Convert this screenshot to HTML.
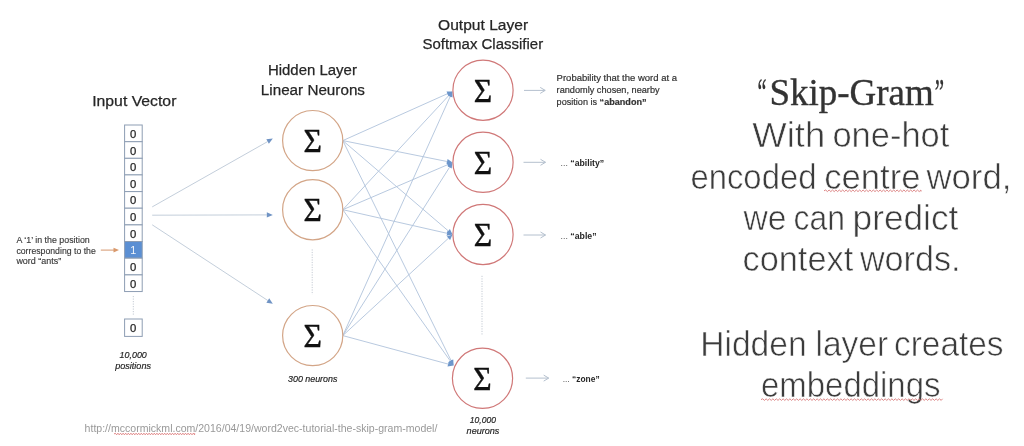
<!DOCTYPE html><html><head><meta charset="utf-8"><style>html,body{margin:0;padding:0;background:#fff;width:1024px;height:446px;overflow:hidden}svg{display:block;filter:blur(0.45px)}</style></head><body>
<svg width="1024" height="446" viewBox="0 0 1024 446">
<rect width="1024" height="446" fill="#fff"/>
<text x="92.2" y="106.2" font-family="'Liberation Sans', sans-serif" font-size="15.4" fill="#262626" stroke="#262626" stroke-width="0.25" textLength="84.2" lengthAdjust="spacingAndGlyphs">Input Vector</text>
<text x="267.9" y="75.1" font-family="'Liberation Sans', sans-serif" font-size="15.4" fill="#262626" stroke="#262626" stroke-width="0.25" textLength="89" lengthAdjust="spacingAndGlyphs">Hidden Layer</text>
<text x="260.8" y="94.6" font-family="'Liberation Sans', sans-serif" font-size="15.4" fill="#262626" stroke="#262626" stroke-width="0.25" textLength="104.2" lengthAdjust="spacingAndGlyphs">Linear Neurons</text>
<text x="438.1" y="29.6" font-family="'Liberation Sans', sans-serif" font-size="15.4" fill="#262626" stroke="#262626" stroke-width="0.25" textLength="90" lengthAdjust="spacingAndGlyphs">Output Layer</text>
<text x="422.4" y="49.4" font-family="'Liberation Sans', sans-serif" font-size="15.4" fill="#262626" stroke="#262626" stroke-width="0.25" textLength="120.8" lengthAdjust="spacingAndGlyphs">Softmax Classifier</text>
<rect x="124.6" y="125.0" width="17.6" height="16.65" fill="#fff" stroke="#8d9db3" stroke-width="1"/>
<text x="133.2" y="137.8" font-family="'Liberation Sans', sans-serif" font-size="11.3" fill="#262626" stroke="#262626" stroke-width="0.25" text-anchor="middle">0</text>
<rect x="124.6" y="141.7" width="17.6" height="16.65" fill="#fff" stroke="#8d9db3" stroke-width="1"/>
<text x="133.2" y="154.5" font-family="'Liberation Sans', sans-serif" font-size="11.3" fill="#262626" stroke="#262626" stroke-width="0.25" text-anchor="middle">0</text>
<rect x="124.6" y="158.3" width="17.6" height="16.65" fill="#fff" stroke="#8d9db3" stroke-width="1"/>
<text x="133.2" y="171.1" font-family="'Liberation Sans', sans-serif" font-size="11.3" fill="#262626" stroke="#262626" stroke-width="0.25" text-anchor="middle">0</text>
<rect x="124.6" y="174.9" width="17.6" height="16.65" fill="#fff" stroke="#8d9db3" stroke-width="1"/>
<text x="133.2" y="187.8" font-family="'Liberation Sans', sans-serif" font-size="11.3" fill="#262626" stroke="#262626" stroke-width="0.25" text-anchor="middle">0</text>
<rect x="124.6" y="191.6" width="17.6" height="16.65" fill="#fff" stroke="#8d9db3" stroke-width="1"/>
<text x="133.2" y="204.4" font-family="'Liberation Sans', sans-serif" font-size="11.3" fill="#262626" stroke="#262626" stroke-width="0.25" text-anchor="middle">0</text>
<rect x="124.6" y="208.2" width="17.6" height="16.65" fill="#fff" stroke="#8d9db3" stroke-width="1"/>
<text x="133.2" y="221.1" font-family="'Liberation Sans', sans-serif" font-size="11.3" fill="#262626" stroke="#262626" stroke-width="0.25" text-anchor="middle">0</text>
<rect x="124.6" y="224.9" width="17.6" height="16.65" fill="#fff" stroke="#8d9db3" stroke-width="1"/>
<text x="133.2" y="237.7" font-family="'Liberation Sans', sans-serif" font-size="11.3" fill="#262626" stroke="#262626" stroke-width="0.25" text-anchor="middle">0</text>
<rect x="124.6" y="241.5" width="17.6" height="16.65" fill="#5b8fd3" stroke="#8d9db3" stroke-width="1"/>
<text x="133.2" y="254.3" font-family="'Liberation Sans', sans-serif" font-size="10.8" fill="#f4f7fb" text-anchor="middle">1</text>
<rect x="124.6" y="258.2" width="17.6" height="16.65" fill="#fff" stroke="#8d9db3" stroke-width="1"/>
<text x="133.2" y="271.0" font-family="'Liberation Sans', sans-serif" font-size="11.3" fill="#262626" stroke="#262626" stroke-width="0.25" text-anchor="middle">0</text>
<rect x="124.6" y="274.9" width="17.6" height="16.65" fill="#fff" stroke="#8d9db3" stroke-width="1"/>
<text x="133.2" y="287.7" font-family="'Liberation Sans', sans-serif" font-size="11.3" fill="#262626" stroke="#262626" stroke-width="0.25" text-anchor="middle">0</text>
<line x1="133.3" y1="296" x2="133.3" y2="316" stroke="#c4cad3" stroke-width="1" stroke-dasharray="1.2 1.3"/>
<rect x="124.6" y="319" width="17.6" height="17.4" fill="#fff" stroke="#8d9db3" stroke-width="1"/>
<text x="133.2" y="331.6" font-family="'Liberation Sans', sans-serif" font-size="11.3" fill="#262626" stroke="#262626" stroke-width="0.25" text-anchor="middle">0</text>
<text x="133.2" y="357.5" font-family="'Liberation Sans', sans-serif" font-size="9.5" font-style="italic" fill="#262626" stroke="#262626" stroke-width="0.2" text-anchor="middle" textLength="27.2" lengthAdjust="spacingAndGlyphs">10,000</text>
<text x="133.1" y="368.5" font-family="'Liberation Sans', sans-serif" font-size="9.5" font-style="italic" fill="#262626" stroke="#262626" stroke-width="0.2" text-anchor="middle" textLength="35.8" lengthAdjust="spacingAndGlyphs">positions</text>
<text x="16.4" y="243.4" font-family="'Liberation Sans', sans-serif" font-size="9" fill="#3a3a3a" stroke="#3a3a3a" stroke-width="0.15" textLength="73.4" lengthAdjust="spacingAndGlyphs">A ‘1’ in the position</text>
<text x="16.4" y="253.8" font-family="'Liberation Sans', sans-serif" font-size="9" fill="#3a3a3a" stroke="#3a3a3a" stroke-width="0.15" textLength="79.4" lengthAdjust="spacingAndGlyphs">corresponding to the</text>
<text x="16.4" y="264.4" font-family="'Liberation Sans', sans-serif" font-size="9" fill="#3a3a3a" stroke="#3a3a3a" stroke-width="0.15" textLength="44.8" lengthAdjust="spacingAndGlyphs">word “ants”</text>
<line x1="100.8" y1="250.1" x2="114" y2="250.1" stroke="#d9a07a" stroke-width="1.1"/>
<path d="M119 250.1 L113.5 247.8 L113.5 252.4 Z" fill="#d9996c"/>
<line x1="152.2" y1="206.9" x2="267.6" y2="141.6" stroke="#bcc8d6" stroke-width="0.9"/><path d="M272.8 138.6 L268.9 143.8 L266.3 139.3 Z" fill="#6f93c4"/>
<line x1="152.2" y1="215.2" x2="266.8" y2="214.9" stroke="#bcc8d6" stroke-width="0.9"/><path d="M272.8 214.9 L266.8 217.5 L266.8 212.3 Z" fill="#6f93c4"/>
<line x1="152.2" y1="224.8" x2="267.8" y2="300.5" stroke="#bcc8d6" stroke-width="0.9"/><path d="M272.8 303.8 L266.4 302.7 L269.2 298.3 Z" fill="#6f93c4"/>
<line x1="342.8" y1="140.6" x2="447.5" y2="93.7" stroke="#b0c3db" stroke-width="0.9"/><path d="M452.5 91.5 L448.5 96.0 L446.5 91.5 Z" fill="#6d96cb"/>
<line x1="342.8" y1="140.6" x2="447.1" y2="161.5" stroke="#b0c3db" stroke-width="0.9"/><path d="M452.5 162.6 L446.6 164.0 L447.6 159.1 Z" fill="#6d96cb"/>
<line x1="342.8" y1="140.6" x2="448.3" y2="230.9" stroke="#b0c3db" stroke-width="0.9"/><path d="M452.5 234.5 L446.7 232.8 L449.9 229.0 Z" fill="#6d96cb"/>
<line x1="342.8" y1="140.6" x2="451.1" y2="360.6" stroke="#b0c3db" stroke-width="0.9"/><path d="M453.5 365.5 L448.8 361.7 L453.3 359.5 Z" fill="#6d96cb"/>
<line x1="342.8" y1="209.7" x2="448.8" y2="95.5" stroke="#b0c3db" stroke-width="0.9"/><path d="M452.5 91.5 L450.6 97.2 L446.9 93.8 Z" fill="#6d96cb"/>
<line x1="342.8" y1="209.7" x2="447.4" y2="164.8" stroke="#b0c3db" stroke-width="0.9"/><path d="M452.5 162.6 L448.4 167.1 L446.5 162.5 Z" fill="#6d96cb"/>
<line x1="342.8" y1="209.7" x2="447.1" y2="233.3" stroke="#b0c3db" stroke-width="0.9"/><path d="M452.5 234.5 L446.6 235.7 L447.7 230.8 Z" fill="#6d96cb"/>
<line x1="342.8" y1="209.7" x2="450.3" y2="361.0" stroke="#b0c3db" stroke-width="0.9"/><path d="M453.5 365.5 L448.3 362.5 L452.4 359.6 Z" fill="#6d96cb"/>
<line x1="342.8" y1="335.6" x2="450.2" y2="96.5" stroke="#b0c3db" stroke-width="0.9"/><path d="M452.5 91.5 L452.5 97.5 L448.0 95.5 Z" fill="#6d96cb"/>
<line x1="342.8" y1="335.6" x2="449.6" y2="167.2" stroke="#b0c3db" stroke-width="0.9"/><path d="M452.5 162.6 L451.7 168.6 L447.4 165.9 Z" fill="#6d96cb"/>
<line x1="342.8" y1="335.6" x2="448.5" y2="238.2" stroke="#b0c3db" stroke-width="0.9"/><path d="M452.5 234.5 L450.1 240.1 L446.8 236.4 Z" fill="#6d96cb"/>
<line x1="342.8" y1="335.6" x2="448.2" y2="364.1" stroke="#b0c3db" stroke-width="0.9"/><path d="M453.5 365.5 L447.5 366.5 L448.8 361.7 Z" fill="#6d96cb"/>
<line x1="312.2" y1="249.4" x2="312.2" y2="294.5" stroke="#c4cad3" stroke-width="1" stroke-dasharray="1.2 1.3"/>
<line x1="482" y1="275.8" x2="482" y2="335" stroke="#c4cad3" stroke-width="1" stroke-dasharray="1.2 1.3"/>
<circle cx="312.7" cy="140.6" r="30.1" fill="#fff" stroke="#d3a587" stroke-width="1.2"/>
<text x="312.7" y="152.2" font-family="'Liberation Serif', serif" font-size="33.5" fill="#111" stroke="#111" stroke-width="0.45" text-anchor="middle" textLength="18.4" lengthAdjust="spacingAndGlyphs">Σ</text>
<circle cx="312.7" cy="209.7" r="30.1" fill="#fff" stroke="#d3a587" stroke-width="1.2"/>
<text x="312.7" y="221.3" font-family="'Liberation Serif', serif" font-size="33.5" fill="#111" stroke="#111" stroke-width="0.45" text-anchor="middle" textLength="18.4" lengthAdjust="spacingAndGlyphs">Σ</text>
<circle cx="312.7" cy="335.6" r="30.1" fill="#fff" stroke="#d3a587" stroke-width="1.2"/>
<text x="312.7" y="347.2" font-family="'Liberation Serif', serif" font-size="33.5" fill="#111" stroke="#111" stroke-width="0.45" text-anchor="middle" textLength="18.4" lengthAdjust="spacingAndGlyphs">Σ</text>
<circle cx="483" cy="90.2" r="30.1" fill="#fff" stroke="#d07878" stroke-width="1.2"/>
<text x="483" y="101.8" font-family="'Liberation Serif', serif" font-size="33.5" fill="#111" stroke="#111" stroke-width="0.45" text-anchor="middle" textLength="18.4" lengthAdjust="spacingAndGlyphs">Σ</text>
<circle cx="483" cy="162.3" r="30.1" fill="#fff" stroke="#d07878" stroke-width="1.2"/>
<text x="483" y="173.9" font-family="'Liberation Serif', serif" font-size="33.5" fill="#111" stroke="#111" stroke-width="0.45" text-anchor="middle" textLength="18.4" lengthAdjust="spacingAndGlyphs">Σ</text>
<circle cx="483" cy="234.5" r="30.1" fill="#fff" stroke="#d07878" stroke-width="1.2"/>
<text x="483" y="246.1" font-family="'Liberation Serif', serif" font-size="33.5" fill="#111" stroke="#111" stroke-width="0.45" text-anchor="middle" textLength="18.4" lengthAdjust="spacingAndGlyphs">Σ</text>
<circle cx="482.5" cy="378.3" r="30.1" fill="#fff" stroke="#d07878" stroke-width="1.2"/>
<text x="482.5" y="389.9" font-family="'Liberation Serif', serif" font-size="33.5" fill="#111" stroke="#111" stroke-width="0.45" text-anchor="middle" textLength="18.4" lengthAdjust="spacingAndGlyphs">Σ</text>
<text x="312.7" y="382" font-family="'Liberation Sans', sans-serif" font-size="9.5" font-style="italic" fill="#262626" stroke="#262626" stroke-width="0.2" text-anchor="middle" textLength="49.4" lengthAdjust="spacingAndGlyphs">300 neurons</text>
<text x="482.9" y="423.4" font-family="'Liberation Sans', sans-serif" font-size="9.5" font-style="italic" fill="#262626" stroke="#262626" stroke-width="0.2" text-anchor="middle" textLength="26.2" lengthAdjust="spacingAndGlyphs">10,000</text>
<text x="483" y="434" font-family="'Liberation Sans', sans-serif" font-size="9.5" font-style="italic" fill="#262626" stroke="#262626" stroke-width="0.2" text-anchor="middle" textLength="32.8" lengthAdjust="spacingAndGlyphs">neurons</text>
<line x1="524" y1="90.4" x2="545.2" y2="90.4" stroke="#b4c0ce" stroke-width="1"/>
<path d="M540.2 87.4 L545.2 90.4 L540.2 93.4" fill="none" stroke="#b4c0ce" stroke-width="1"/>
<line x1="523.5" y1="162.3" x2="545.5" y2="162.3" stroke="#b4c0ce" stroke-width="1"/>
<path d="M540.5 159.3 L545.5 162.3 L540.5 165.3" fill="none" stroke="#b4c0ce" stroke-width="1"/>
<line x1="523.5" y1="235" x2="545.5" y2="235" stroke="#b4c0ce" stroke-width="1"/>
<path d="M540.5 232 L545.5 235 L540.5 238" fill="none" stroke="#b4c0ce" stroke-width="1"/>
<line x1="525.8" y1="378.1" x2="548.7" y2="378.1" stroke="#b4c0ce" stroke-width="1"/>
<path d="M543.7 375.1 L548.7 378.1 L543.7 381.1" fill="none" stroke="#b4c0ce" stroke-width="1"/>
<text x="556.6" y="81.1" font-family="'Liberation Sans', sans-serif" font-size="9.3" fill="#333" stroke="#333" stroke-width="0.2" textLength="120.4" lengthAdjust="spacingAndGlyphs">Probability that the word at a</text>
<text x="556.6" y="93.2" font-family="'Liberation Sans', sans-serif" font-size="9.3" fill="#333" stroke="#333" stroke-width="0.2" textLength="103" lengthAdjust="spacingAndGlyphs">randomly chosen, nearby</text>
<text x="556.6" y="104.8" font-family="'Liberation Sans', sans-serif" font-size="9.3" fill="#333" stroke="#333" stroke-width="0.2" textLength="90" lengthAdjust="spacingAndGlyphs">position is <tspan font-weight="bold">“abandon”</tspan></text>
<text x="560.6" y="166" font-family="'Liberation Sans', sans-serif" font-size="9" fill="#262626" textLength="43.6" lengthAdjust="spacingAndGlyphs"><tspan fill="#555">... </tspan><tspan font-weight="bold">“ability”</tspan></text>
<text x="560.6" y="238.5" font-family="'Liberation Sans', sans-serif" font-size="9" fill="#262626" textLength="36" lengthAdjust="spacingAndGlyphs"><tspan fill="#555">... </tspan><tspan font-weight="bold">“able”</tspan></text>
<text x="562.7" y="381.5" font-family="'Liberation Sans', sans-serif" font-size="9" fill="#262626" textLength="36.9" lengthAdjust="spacingAndGlyphs"><tspan fill="#555">... </tspan><tspan font-weight="bold">“zone”</tspan></text>
<text x="84.6" y="431.8" font-family="'Liberation Sans', sans-serif" font-size="11" fill="#999" textLength="352.8" lengthAdjust="spacingAndGlyphs">http://mccormickml.com/2016/04/19/word2vec-tutorial-the-skip-gram-model/</text>
<path d="M114.0 434.0 L115.3 433.2 L116.6 434.8 L117.9 433.2 L119.2 434.8 L120.5 433.2 L121.8 434.8 L123.1 433.2 L124.4 434.8 L125.7 433.2 L127.0 434.8 L128.3 433.2 L129.6 434.8 L130.9 433.2 L132.2 434.8 L133.5 433.2 L134.8 434.8 L136.1 433.2 L137.4 434.8 L138.7 433.2 L140.0 434.8 L141.3 433.2 L142.6 434.8 L143.9 433.2 L145.2 434.8 L146.5 433.2 L147.8 434.8 L149.1 433.2 L150.4 434.8 L151.7 433.2 L153.0 434.8 L154.3 433.2 L155.6 434.8 L156.9 433.2 L158.2 434.8 L159.5 433.2 L160.8 434.8 L162.1 433.2 L163.4 434.8 L164.7 433.2 L166.0 434.8 L167.3 433.2 L168.6 434.8 L169.9 433.2 L171.2 434.8 L172.5 433.2 L173.8 434.8 L175.1 433.2 L176.4 434.8 L177.7 433.2 L179.0 434.8 L180.3 433.2 L181.6 434.8 L182.9 433.2 L184.2 434.8 L185.5 433.2 L186.8 434.8 L188.1 433.2 L189.4 434.8 L190.7 433.2 L192.0 434.8 L193.3 433.2 L194.6 434.8 L194.7 433.2" fill="none" stroke="#dd7a7a" stroke-width="0.9"/>
<text x="757.60" y="104.8" font-family="'Liberation Serif', serif" font-size="37" fill="#333" stroke="#333" stroke-width="0.35" textLength="8.91" lengthAdjust="spacingAndGlyphs">“</text>
<text x="769.40" y="104.8" font-family="'Liberation Serif', serif" font-size="37" fill="#333" stroke="#333" stroke-width="0.35" textLength="164.42" lengthAdjust="spacingAndGlyphs">Skip-Gram</text>
<text x="934.70" y="104.8" font-family="'Liberation Serif', serif" font-size="37" fill="#333" stroke="#333" stroke-width="0.35" textLength="9.31" lengthAdjust="spacingAndGlyphs">”</text>
<text x="752.30" y="146.6" font-family="'Liberation Sans', sans-serif" font-size="35" fill="#3c3c3c" stroke="#fff" stroke-width="0.6" textLength="72.90" lengthAdjust="spacingAndGlyphs">With</text>
<text x="832.40" y="146.6" font-family="'Liberation Sans', sans-serif" font-size="35" fill="#3c3c3c" stroke="#fff" stroke-width="0.6" textLength="117.01" lengthAdjust="spacingAndGlyphs">one-hot</text>
<text x="690.40" y="188.5" font-family="'Liberation Sans', sans-serif" font-size="35" fill="#3c3c3c" stroke="#fff" stroke-width="0.6" textLength="126.09" lengthAdjust="spacingAndGlyphs">encoded</text>
<text x="824.20" y="188.5" font-family="'Liberation Sans', sans-serif" font-size="35" fill="#3c3c3c" stroke="#fff" stroke-width="0.6" textLength="96.38" lengthAdjust="spacingAndGlyphs">centre</text>
<text x="926.40" y="188.5" font-family="'Liberation Sans', sans-serif" font-size="35" fill="#3c3c3c" stroke="#fff" stroke-width="0.6" textLength="85.09" lengthAdjust="spacingAndGlyphs">word,</text>
<text x="743.50" y="229.6" font-family="'Liberation Sans', sans-serif" font-size="35" fill="#3c3c3c" stroke="#fff" stroke-width="0.6" textLength="43.04" lengthAdjust="spacingAndGlyphs">we</text>
<text x="793.50" y="229.6" font-family="'Liberation Sans', sans-serif" font-size="35" fill="#3c3c3c" stroke="#fff" stroke-width="0.6" textLength="51.43" lengthAdjust="spacingAndGlyphs">can</text>
<text x="852.60" y="229.6" font-family="'Liberation Sans', sans-serif" font-size="35" fill="#3c3c3c" stroke="#fff" stroke-width="0.6" textLength="105.75" lengthAdjust="spacingAndGlyphs">predict</text>
<text x="742.50" y="271.4" font-family="'Liberation Sans', sans-serif" font-size="35" fill="#3c3c3c" stroke="#fff" stroke-width="0.6" textLength="110.74" lengthAdjust="spacingAndGlyphs">context</text>
<text x="859.90" y="271.4" font-family="'Liberation Sans', sans-serif" font-size="35" fill="#3c3c3c" stroke="#fff" stroke-width="0.6" textLength="100.69" lengthAdjust="spacingAndGlyphs">words.</text>
<text x="700.20" y="355.9" font-family="'Liberation Sans', sans-serif" font-size="35" fill="#3c3c3c" stroke="#fff" stroke-width="0.6" textLength="106.52" lengthAdjust="spacingAndGlyphs">Hidden</text>
<text x="815.50" y="355.9" font-family="'Liberation Sans', sans-serif" font-size="35" fill="#3c3c3c" stroke="#fff" stroke-width="0.6" textLength="72.66" lengthAdjust="spacingAndGlyphs">layer</text>
<text x="894.00" y="355.9" font-family="'Liberation Sans', sans-serif" font-size="35" fill="#3c3c3c" stroke="#fff" stroke-width="0.6" textLength="109.58" lengthAdjust="spacingAndGlyphs">creates</text>
<text x="761.00" y="396.9" font-family="'Liberation Sans', sans-serif" font-size="35" fill="#3c3c3c" stroke="#fff" stroke-width="0.6" textLength="179.49" lengthAdjust="spacingAndGlyphs">embeddings</text>
<path d="M824.0 190.8 L825.7 190.0 L827.4 191.6 L829.1 190.0 L830.8 191.6 L832.5 190.0 L834.2 191.6 L835.9 190.0 L837.6 191.6 L839.3 190.0 L841.0 191.6 L842.7 190.0 L844.4 191.6 L846.1 190.0 L847.8 191.6 L849.5 190.0 L851.2 191.6 L852.9 190.0 L854.6 191.6 L856.3 190.0 L858.0 191.6 L859.7 190.0 L861.4 191.6 L863.1 190.0 L864.8 191.6 L866.5 190.0 L868.2 191.6 L869.9 190.0 L871.6 191.6 L873.3 190.0 L875.0 191.6 L876.7 190.0 L878.4 191.6 L880.1 190.0 L881.8 191.6 L883.5 190.0 L885.2 191.6 L886.9 190.0 L888.6 191.6 L890.3 190.0 L892.0 191.6 L893.7 190.0 L895.4 191.6 L897.1 190.0 L898.8 191.6 L900.5 190.0 L902.2 191.6 L903.9 190.0 L905.6 191.6 L907.3 190.0 L909.0 191.6 L910.7 190.0 L912.4 191.6 L914.1 190.0 L915.8 191.6 L917.5 190.0 L919.2 191.6 L920.9 190.0 L921.0 191.6" fill="none" stroke="#dd8686" stroke-width="1.0"/>
<path d="M761.0 399.6 L762.7 398.8 L764.4 400.4 L766.1 398.8 L767.8 400.4 L769.5 398.8 L771.2 400.4 L772.9 398.8 L774.6 400.4 L776.3 398.8 L778.0 400.4 L779.7 398.8 L781.4 400.4 L783.1 398.8 L784.8 400.4 L786.5 398.8 L788.2 400.4 L789.9 398.8 L791.6 400.4 L793.3 398.8 L795.0 400.4 L796.7 398.8 L798.4 400.4 L800.1 398.8 L801.8 400.4 L803.5 398.8 L805.2 400.4 L806.9 398.8 L808.6 400.4 L810.3 398.8 L812.0 400.4 L813.7 398.8 L815.4 400.4 L817.1 398.8 L818.8 400.4 L820.5 398.8 L822.2 400.4 L823.9 398.8 L825.6 400.4 L827.3 398.8 L829.0 400.4 L830.7 398.8 L832.4 400.4 L834.1 398.8 L835.8 400.4 L837.5 398.8 L839.2 400.4 L840.9 398.8 L842.6 400.4 L844.3 398.8 L846.0 400.4 L847.7 398.8 L849.4 400.4 L851.1 398.8 L852.8 400.4 L854.5 398.8 L856.2 400.4 L857.9 398.8 L859.6 400.4 L861.3 398.8 L863.0 400.4 L864.7 398.8 L866.4 400.4 L868.1 398.8 L869.8 400.4 L871.5 398.8 L873.2 400.4 L874.9 398.8 L876.6 400.4 L878.3 398.8 L880.0 400.4 L881.7 398.8 L883.4 400.4 L885.1 398.8 L886.8 400.4 L888.5 398.8 L890.2 400.4 L891.9 398.8 L893.6 400.4 L895.3 398.8 L897.0 400.4 L898.7 398.8 L900.4 400.4 L902.1 398.8 L903.8 400.4 L905.5 398.8 L907.2 400.4 L908.9 398.8 L910.6 400.4 L912.3 398.8 L914.0 400.4 L915.7 398.8 L917.4 400.4 L919.1 398.8 L920.8 400.4 L922.5 398.8 L924.2 400.4 L925.9 398.8 L927.6 400.4 L929.3 398.8 L931.0 400.4 L932.7 398.8 L934.4 400.4 L936.1 398.8 L937.8 400.4 L939.5 398.8 L941.2 400.4 L942.5 398.8" fill="none" stroke="#dd8686" stroke-width="1.0"/>
</svg></body></html>
